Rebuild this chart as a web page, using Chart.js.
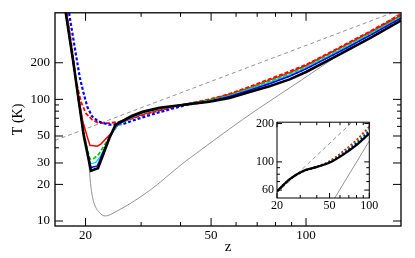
<!DOCTYPE html>
<html>
<head>
<meta charset="utf-8">
<script src="https://cdn.jsdelivr.net/npm/chart.js@4.4.1/dist/chart.umd.min.js"></script>
<style>
  body { margin: 0; background: #fff; }
  #wrap { position: relative; width: 415px; height: 258px; }
  #insetChart { position: absolute; left: 250px; top: 112px; }
</style>
</head>
<body>
<div id="wrap">
  <canvas id="mainChart" width="415" height="258"></canvas>
  <canvas id="insetChart" width="135" height="104"></canvas>
</div>
<script>
// main panel: [z, T] pairs
const blackLine = [[17.0,700],[18.3,200],[19.0,100],[19.75,50],[20.8,25.9],[21.9,27.2],[23.8,48.2],[24.9,61.9],[26.2,66.6],[28,73],[30.3,79.2],[34.3,85.3],[41.7,90.8],[49.4,95.5],[57.2,102.8],[66.2,115],[76.6,128.5],[88.7,146],[100,168],[130,240],[160,320],[200,445]];
const blueLine = [[17.0,700],[18.3,200],[19.0,100],[19.75,50],[20.8,27.5],[21.8,28.4],[23.8,49],[25,61],[26.2,65.5],[28,72],[30.3,78],[34.3,84.5],[41.7,91],[49.4,96.5],[57.2,105.5],[66.2,119],[76.6,134.5],[88.7,155],[100,178],[130,253],[160,338],[200,466]];
const cyanLine = [[17.0,700],[18.3,200],[19.0,100],[19.75,50],[20.7,29.5],[21.5,30.2],[22.2,33.5],[24.0,50],[25.2,60.5],[26.2,65],[28,71.5],[30.3,77.5],[34.3,84],[41.7,91.5],[49.4,97.5],[57.2,107],[66.2,121],[76.6,138],[88.7,159],[100,182],[130,259],[160,345],[200,472]];
const greenDash = [[17.0,700],[18.3,200],[19.0,100],[19.6,58],[20.2,40],[20.65,32.2],[21.3,32.8],[22.0,35.3],[24.1,51.3],[25.3,61.8],[26.2,64.5],[28,71],[30.3,77],[34.3,83.5],[41.7,91.5],[49.4,98.5],[57.2,108],[66.2,123],[76.6,141],[88.7,162],[100,185],[130,262],[160,350],[200,480]];
const redLine = [[17.0,700],[18.3,200],[19.0,105],[19.6,66],[20.3,48.2],[20.65,42],[21.8,41.2],[22.4,43.1],[24.4,54.5],[25.6,63.7],[26.4,65.5],[28,70],[30.3,75],[34.3,82],[41.7,91.5],[49.4,99],[57.2,110],[66.2,125],[76.6,144],[88.7,166],[100,190],[130,270],[160,358],[200,490]];
const redDash = [[16.9,900],[17.5,481],[18.2,242],[18.6,147],[19.34,95.5],[20.06,76.7],[21.0,67.9],[22.0,64],[23.7,63.7],[25.6,65.7],[28,69.5],[30.3,74],[34.3,81],[41.7,91.5],[49.4,100],[57.2,111],[66.2,127],[76.6,147],[88.7,170],[100,193],[130,274],[160,364],[200,502]];
const blueDash = [[17.2,900],[17.8,481],[18.6,242],[19.17,152],[19.67,115],[20.25,87],[21.0,72.2],[22.0,65.7],[23.7,61.9],[26.2,62.5],[28,66.5],[30.3,71],[34.3,78.5],[41.7,90],[49.4,97],[57.2,106],[66.2,120],[76.6,137],[88.7,157],[100,180],[130,255],[160,341],[200,468]];
const cmbLine = [[16,46],[200,548]];
const grayLine = [[17.0,700],[18.3,200],[19.0,100],[19.75,50],[20.3,37.6],[20.8,19],[21.2,14.5],[22.1,11.8],[23.1,11.0],[24.9,11.9],[31.9,17.8],[40.5,29.5],[45.9,37.6],[62.9,68.2],[100,153],[188,465],[200,520]];

const xTicks = [20,30,40,50,60,70,80,90,100];
const xLabels = [20,50,100];
const yTicks = [10,20,30,40,50,60,70,80,90,100,200];
const yLabels = [10,20,30,50,100,200];

// inset panel
const insetBlack = [[20,58.7],[25,73.1],[31.5,84.8],[39.8,91],[49.7,98.2],[63.5,114],[80.2,136],[100,167]];
const insetBlue = [[20,58.7],[25,73],[31.5,84.3],[39.8,91],[49.7,99],[63.5,116],[80.2,140],[100,174]];
const insetGreen = [[20,58.7],[25,73],[31.5,84],[39.8,91],[49.7,100],[63.5,118],[80.2,144],[100,180]];
const insetRed = [[20,58.7],[25,73],[31.5,84],[39.8,91.5],[49.7,101],[63.5,121],[80.2,149],[100,189]];
const insetCmb = [[20,57],[100,275]];
const insetGray = [[50,44.5],[100,146]];

const insetXTicks = [20,30,40,50,60,70,80,90,100];
const insetXLabels = [20,50,100];
const insetYTicks = [60,70,80,90,100,200];
const insetYLabels = [60,100,200];

const serif = "'Liberation Serif', 'Times New Roman', serif";
const pts = arr => arr.map(([x, y]) => ({x, y}));

function line(data, color, width, dash, smooth) {
  return {
    data: pts(data), borderColor: color, borderWidth: width, borderDash: dash || [],
    pointRadius: 0, fill: false,
    cubicInterpolationMode: smooth ? 'monotone' : 'default', tension: 0
  };
}

// frame with inward ticks on all four sides
const frameTicks = {
  id: 'frameTicks',
  beforeDatasetsDraw(chart, args, opts) {
    if (!opts.whiteBg) return;
    const a = chart.chartArea, ctx = chart.ctx;
    ctx.save();
    ctx.fillStyle = '#fff';
    ctx.fillRect(a.left, a.top, a.width, a.height);
    ctx.restore();
  },
  afterDraw(chart, args, opts) {
    const {ctx, chartArea: a, scales: {x, y}} = chart;
    ctx.save();
    ctx.strokeStyle = '#000';
    ctx.lineWidth = 1;
    ctx.beginPath();
    x.ticks.forEach(t => {
      const px = x.getPixelForValue(t.value);
      const len = opts.xMajor.includes(t.value) ? opts.major : opts.minor;
      ctx.moveTo(px, a.bottom); ctx.lineTo(px, a.bottom - len);
      ctx.moveTo(px, a.top); ctx.lineTo(px, a.top + len);
    });
    y.ticks.forEach(t => {
      const py = y.getPixelForValue(t.value);
      const len = opts.yMajor.includes(t.value) ? opts.major : opts.minor;
      ctx.moveTo(a.left, py); ctx.lineTo(a.left + len, py);
      ctx.moveTo(a.right, py); ctx.lineTo(a.right - len, py);
    });
    ctx.stroke();
    ctx.lineWidth = opts.frame;
    ctx.strokeRect(a.left, a.top, a.width, a.height);
    ctx.restore();
  }
};

function logAxis(min, max, ticks, labels, size, pad, fit) {
  return {
    type: 'logarithmic', min: min, max: max,
    grid: {display: false, drawTicks: false},
    border: {display: false},
    afterBuildTicks: s => { s.ticks = ticks.map(v => ({value: v})); },
    afterFit: fit,
    ticks: {
      autoSkip: false, maxRotation: 0, padding: pad, color: '#000',
      font: {family: serif, size: size},
      callback: v => labels.includes(v) ? String(v) : ''
    }
  };
}

const mainX = logAxis(16, 200, xTicks, xLabels, 13, 2, s => { s.height = 32; });
mainX.title = {display: true, text: 'z', color: '#000', font: {family: serif, size: 15}, padding: {top: 0, bottom: 2}};
const mainY = logAxis(9.1, 515, yTicks, yLabels, 13, 5, s => { s.width = 55; });
mainY.title = {display: true, text: 'T (K)', color: '#000', font: {family: serif, size: 14}, padding: {top: 10, bottom: 0}};

new Chart(document.getElementById('mainChart'), {
  type: 'line',
  data: {
    datasets: [
      line(blackLine, '#000000', 2.6),
      line(blueLine, '#0000ff', 1.5),
      line(cyanLine, '#00d8d8', 1.2),
      line(greenDash, '#00cc00', 1.8, [4, 2]),
      line(redLine, '#ff0000', 1.5),
      line(blueDash, '#0000ff', 2.2, [3, 2]),
      line(redDash, '#ff0000', 1.8, [4, 2]),
      line(cmbLine, '#777777', 0.8, [4, 3]),
      line(grayLine, '#777777', 0.8, null, true)
    ]
  },
  options: {
    responsive: false, animation: false, devicePixelRatio: 1,
    layout: {padding: {top: 9.5, right: 14, left: 0, bottom: 0}},
    plugins: {
      legend: {display: false}, tooltip: {enabled: false},
      frameTicks: {xMajor: xLabels, yMajor: yLabels, major: 8, minor: 4, frame: 1.3, whiteBg: false}
    },
    scales: {x: mainX, y: mainY}
  },
  plugins: [frameTicks]
});

const insetX = logAxis(20, 100, insetXTicks, insetXLabels, 12, 1, s => { s.height = 18; });
const insetY = logAxis(52, 205, insetYTicks, insetYLabels, 12, 3, s => { s.width = 27; });

new Chart(document.getElementById('insetChart'), {
  type: 'line',
  data: {
    datasets: [
      line(insetBlack, '#000000', 2.2, null, true),
      line(insetBlue, '#0000ff', 1.8, [2, 2], true),
      line(insetGreen, '#00cc00', 1.8, [2, 2], true),
      line(insetRed, '#ff0000', 1.8, [2, 2], true),
      line(insetCmb, '#777777', 0.8, [4, 3]),
      line(insetGray, '#777777', 0.8)
    ]
  },
  options: {
    responsive: false, animation: false, devicePixelRatio: 1,
    layout: {padding: {top: 8, right: 15.7, left: 0, bottom: 0}},
    plugins: {
      legend: {display: false}, tooltip: {enabled: false},
      frameTicks: {xMajor: insetXLabels, yMajor: insetYLabels, major: 5, minor: 3, frame: 1, whiteBg: true}
    },
    scales: {x: insetX, y: insetY}
  },
  plugins: [frameTicks]
});
</script>
</body>
</html>
